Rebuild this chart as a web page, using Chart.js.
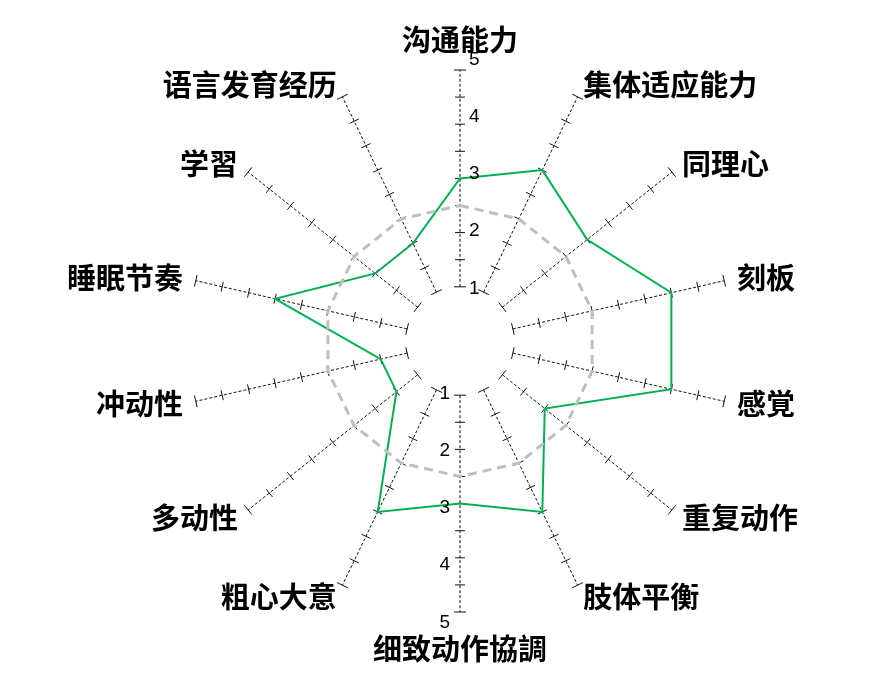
<!DOCTYPE html>
<html>
<head>
<meta charset="utf-8">
<script src="https://cdn.jsdelivr.net/npm/chart.js@4/dist/chart.umd.min.js"></script>
<style>
  body { margin: 0; background: #ffffff; }
  canvas { display: block; }
</style>
</head>
<body>
<canvas id="radar" width="894" height="685"></canvas>
<script>
'use strict'

// 軸の名前（上から時計回り）
const categories = ["沟通能力", "集体适应能力", "同理心", "刻板", "感覚", "重复动作", "肢体平衡",
                    "细致动作協調", "粗心大意", "多动性", "冲动性", "睡眠节奏", "学習", "语言发育经历"];
// 緑の折れ線
const scores = [3, 3.5, 3, 4, 4, 2, 3.5, 3, 3.5, 1.5, 1.5, 3.5, 2, 2];
// 灰色の点線（基準）
const baseline = [2.5, 2.5, 2.5, 2.5, 2.5, 2.5, 2.5, 2.5, 2.5, 2.5, 2.5, 2.5, 2.5, 2.5];
// 目盛り
const tickMarks = [1, 1.5, 2, 2.5, 3, 3.5, 4, 4.5, 5];
const tickLabels = ["1", "2", "3", "4", "5"];
const axisFrom = 1;
const axisTo = 5;

// 軸と目盛りを描くプラグイン
const axisPlugin = {
    id: 'axisPlugin',
    beforeDatasetsDraw(chart) {
        const scale = chart.scales.r;
        const ctx = chart.ctx;
        ctx.save();
        ctx.strokeStyle = '#111';
        ctx.lineWidth = 1;
        for (let i = 0; i < categories.length; i++) {
            const p1 = scale.getPointPositionForValue(i, axisFrom);
            const p2 = scale.getPointPositionForValue(i, axisTo);
            ctx.setLineDash([3, 2]);
            ctx.beginPath();
            ctx.moveTo(p1.x, p1.y);
            ctx.lineTo(p2.x, p2.y);
            ctx.stroke();
            ctx.setLineDash([]);

            const a = scale.getIndexAngle(i) - Math.PI / 2;
            const nx = -Math.sin(a), ny = Math.cos(a);
            tickMarks.forEach(v => {
                const p = scale.getPointPositionForValue(i, v);
                const half = (v === axisFrom || v === axisTo) ? 6 : 5;
                ctx.beginPath();
                ctx.moveTo(p.x - nx * half, p.y - ny * half);
                ctx.lineTo(p.x + nx * half, p.y + ny * half);
                ctx.stroke();
            });
        }
        ctx.restore();
    },
    afterDraw(chart) {
        const scale = chart.scales.r;
        const ctx = chart.ctx;
        const n = categories.length;
        ctx.save();

        // 項目名
        ctx.fillStyle = '#000';
        ctx.font = 'bold 29px "Noto Sans CJK SC"';
        ctx.textBaseline = 'middle';
        for (let i = 0; i < n; i++) {
            let dist = scale.drawingArea + 13;
            let align;
            if (i === 0) { dist = scale.drawingArea + 30; align = 'center'; }
            else if (i === n / 2) { dist = scale.drawingArea + 37; align = 'center'; }
            else if (i < n / 2) align = 'left';
            else align = 'right';
            const p = scale.getPointPosition(i, dist);
            ctx.textAlign = align;
            ctx.fillText(categories[i], p.x, p.y);
        }

        // 数値ラベル（上と下の軸）
        ctx.font = '19px "Liberation Sans"';
        tickLabels.forEach((t, k) => {
            const v = k + 1;
            const d = scale.getDistanceFromCenterForValue(v) * 1.055 - 4.5;
            const top = scale.getPointPosition(0, d);
            ctx.textAlign = 'left';
            ctx.fillText(t, top.x + 9, top.y);
            const bottom = scale.getPointPosition(n / 2, d);
            ctx.textAlign = 'right';
            ctx.fillText(t, bottom.x - 10, bottom.y);
        });
        ctx.restore();
    }
};

const ctx = document.getElementById('radar');

const myChart = new Chart(ctx, {
    type: 'radar',
    data: {
        labels: categories,
        datasets: [
            {
                label: '基准',
                data: baseline,
                borderColor: '#BFBFBF',
                borderWidth: 3,
                borderDash: [9, 6],
                pointRadius: 0,
                fill: false
            },
            {
                label: '得分',
                data: scores,
                borderColor: '#00B050',
                borderWidth: 2,
                pointRadius: 0,
                fill: false
            }
        ]
    },
    options: {
        responsive: false,
        animation: false,
        layout: {
            padding: { left: 27, right: 0, top: 70, bottom: 73 }
        },
        plugins: {
            legend: { display: false },
            tooltip: { enabled: false }
        },
        scales: {
            r: {
                min: 0,
                max: 5,
                grid: { display: false },
                angleLines: { display: false },
                ticks: { display: false },
                pointLabels: { display: false }
            }
        }
    },
    plugins: [axisPlugin]
});
</script>
</body>
</html>
